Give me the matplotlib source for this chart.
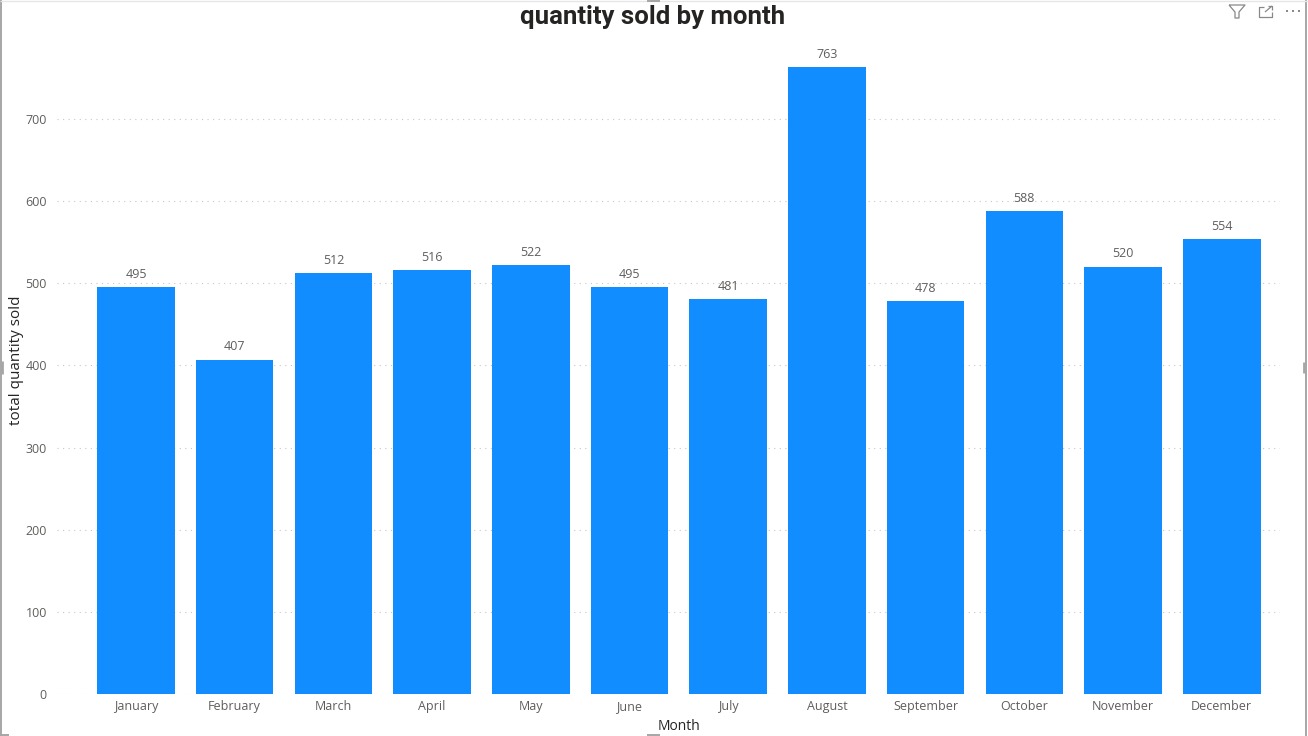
#!/usr/bin/env python3
import matplotlib
matplotlib.use("Agg")
import matplotlib.pyplot as plt
from matplotlib.lines import Line2D

months = ["January", "February", "March", "April", "May", "June", "July",
          "August", "September", "October", "November", "December"]
quantity = [495, 407, 512, 516, 522, 495, 481, 763, 478, 588, 520, 554]
y_ticks = [0, 100, 200, 300, 400, 500, 600, 700]

W, H = 1308, 736
TEXT_GREY = "#605E5C"
FRAME_GREY = "#A6A6A6"
ICON_GREY = "#8A8886"

plt.rcParams["font.family"] = ["Open Sans", "DejaVu Sans"]


def px_line(fig, xs, ys, color=FRAME_GREY, lw=1.0):
    # line given in picture pixels, y counted from the top
    fig.add_artist(Line2D([x / W for x in xs], [1 - y / H for y in ys],
                          color=color, linewidth=lw, solid_capstyle="butt"))


fig = plt.figure(figsize=(W / 100, H / 100), dpi=100)
ax = fig.add_axes([57 / W, 1 - 694 / H, (1280 - 57) / W, (694 - 40) / H])

xs = list(range(len(months)))
bars = ax.bar(xs, quantity, width=0.785, color="#118DFF", zorder=2)
ax.bar_label(bars, labels=[str(v) for v in quantity], padding=4.6, fontsize=9, color=TEXT_GREY)

ax.set_xlim(-0.80, 11.59)
ax.set_ylim(0, 654 / 0.8214)
ax.set_xticks(xs)
ax.set_xticklabels(months, fontsize=9, color=TEXT_GREY, va="baseline")
ax.set_yticks(y_ticks)
ax.tick_params(axis="both", length=0, labelsize=9, labelcolor=TEXT_GREY)
ax.tick_params(axis="x", pad=11.5)
ax.tick_params(axis="y", pad=7.2)
ax.grid(axis="y", color="#C8C6C4", linestyle=(0, (1, 4)), linewidth=0.8, zorder=0)
ax.set_axisbelow(True)
for s in ax.spines.values():
    s.set_visible(False)

fig.text(653 / W, 1 - 17 / H, "quantity sold by month", ha="center", va="center",
         fontsize=18.5, fontweight="bold", color="#252423", family="Roboto")
fig.text(679 / W, 1 - 727 / H, "Month", ha="center", va="center", fontsize=10, color="#252423")
fig.text(17 / W, 1 - 360 / H, "total quantity sold", ha="center", va="center",
         rotation=90, fontsize=11, color="#252423")

# report frame and its resize handles
px_line(fig, [0.5, 0.5], [0, 736], lw=1.4)
px_line(fig, [1306, 1306], [0, 736], lw=1.4)
px_line(fig, [0, 1308], [0.5, 0.5], color="#E6E6E6")
px_line(fig, [0, 9], [735, 735], lw=1.4)
px_line(fig, [647, 660], [735, 735], lw=1.4)
px_line(fig, [647, 660], [1, 1], lw=1.4)
px_line(fig, [2, 2], [361, 374], lw=2)
px_line(fig, [1304, 1304], [362, 373], lw=2)

# visual header icons: filter, focus mode, more options
px_line(fig, [1229, 1245, 1239, 1239, 1235, 1235, 1229], [5, 5, 12, 18, 18, 12, 5], ICON_GREY, 0.9)
px_line(fig, [1264, 1259, 1259, 1272, 1272], [7, 7, 17, 17, 12], ICON_GREY, 0.9)
px_line(fig, [1265, 1272], [12, 6], ICON_GREY, 0.9)
px_line(fig, [1268, 1272, 1272], [6, 6, 10], ICON_GREY, 0.9)
for dot_x in [1286, 1292, 1298]:
    px_line(fig, [dot_x, dot_x + 2], [11, 11], ICON_GREY, 1.4)

fig.savefig("out.png", dpi=100)
